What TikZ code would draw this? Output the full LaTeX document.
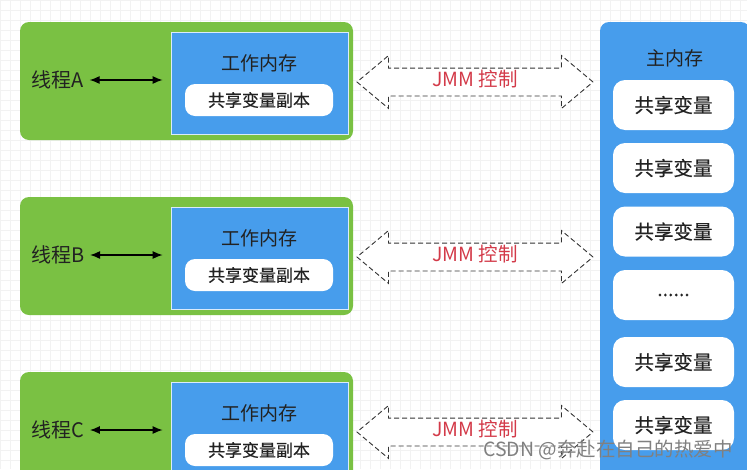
\documentclass[tikz,border=0pt]{standalone}
\usepackage{fontspec}
\setmainfont{Noto Sans CJK SC}
\newfontfamily\boxfont{Noto Sans CJK SC}[FakeBold=0.4]
\usepackage{xcolor}
\usepackage{tikz}
\usetikzlibrary{arrows.meta}
\usetikzlibrary{shapes.arrows}
\tikzset{>={Latex[length=10pt,width=8pt]}}
\definecolor{thrgreen}{HTML}{7AC143}
\definecolor{memblue}{HTML}{479DEC}
\definecolor{jmmred}{HTML}{D33A49}
\definecolor{txtdark}{HTML}{222222}

\begin{document}
\begin{tikzpicture}[x=1pt,y=-1pt,
	thread/.style={fill=thrgreen,rounded corners=9pt,minimum width=333,minimum height=118},
	workmem/.style={fill=memblue,draw=white!80!memblue,line width=0.8pt,minimum width=177,minimum height=102},
	copybox/.style={fill=white,rounded corners=10pt,minimum width=148,minimum height=32,text=txtdark,font=\boxfont\fontsize{17}{17}\selectfont},
	varbox/.style={fill=white,rounded corners=12pt,minimum width=121,minimum height=50,text=txtdark,font=\boxfont\fontsize{19.5}{19.5}\selectfont},
	title/.style={text=txtdark,font=\fontsize{19}{19}\selectfont},
	link/.style={<->,line width=1.2pt,shorten >=8pt,shorten <=2pt},
	jmm/.style={double arrow,draw=black!80,line width=0.9pt,dash pattern=on 5pt off 3pt,fill=white,minimum height=236,double arrow head extend=12.5pt,double arrow tip angle=80,inner xsep=0pt,inner ysep=6.5pt,text height=11pt,text depth=3pt,text=jmmred,font=\fontsize{19.5}{19.5}\selectfont}]
	\clip (0,0) rectangle (747,469);
	\fill[white] (0,0) rectangle (747,469);
	\draw[step=10pt,gray!10,line width=0.3pt] (0,0) grid (747,469);
	% thread A
	\node[thread] (thrA) at (186.5,81) {};
	\node[workmem] (wmA) at (259.5,83) {};
	\node[title] (wtA) at (259.5,63) {工作内存};
	\node[copybox] (cpA) at (259,100) {共享变量副本};
	\node[title,font=\fontsize{20}{20}\selectfont] (tA) at (58,80) {线程A};
	\draw[link] (tA)--(wmA.west|-tA);
	% thread B
	\node[thread] (thrB) at (186.5,256) {};
	\node[workmem] (wmB) at (259.5,258) {};
	\node[title] (wtB) at (259.5,238) {工作内存};
	\node[copybox] (cpB) at (259,275) {共享变量副本};
	\node[title,font=\fontsize{20}{20}\selectfont] (tB) at (58,255) {线程B};
	\draw[link] (tB)--(wmB.west|-tB);
	% thread C
	\node[thread] (thrC) at (186.5,431) {};
	\node[workmem] (wmC) at (259.5,433) {};
	\node[title] (wtC) at (259.5,413) {工作内存};
	\node[copybox] (cpC) at (259,450) {共享变量副本};
	\node[title,font=\fontsize{20}{20}\selectfont] (tC) at (58,430) {线程C};
	\draw[link] (tC)--(wmC.west|-tC);
	% JMM
	\node[jmm] (jA) at (475,82) {JMM 控制};
	\node[jmm] (jB) at (475,257) {JMM 控制};
	\node[jmm] (jC) at (475,432) {JMM 控制};
	% main memory
	\node[fill=memblue,rounded corners=9pt,minimum width=150,minimum height=470] (main) at (675,257) {};
	\node[title] (mt) at (675,58) {主内存};
	\node[varbox] (v1) at (673.5,105) {共享变量};
	\node[varbox] (v2) at (673.5,168) {共享变量};
	\node[varbox] (v3) at (673.5,231.5) {共享变量};
	\node[varbox] (v4) at (673.5,295) {......};
	\node[varbox] (v5) at (673.5,362) {共享变量};
	\node[varbox] (v6) at (673.5,425) {共享变量};
	\node[text=gray,font=\fontsize{19.5}{19.5}\selectfont] (wm) at (608,450) {CSDN @奔赴在自己的热爱中};
\end{tikzpicture}
\end{document}
